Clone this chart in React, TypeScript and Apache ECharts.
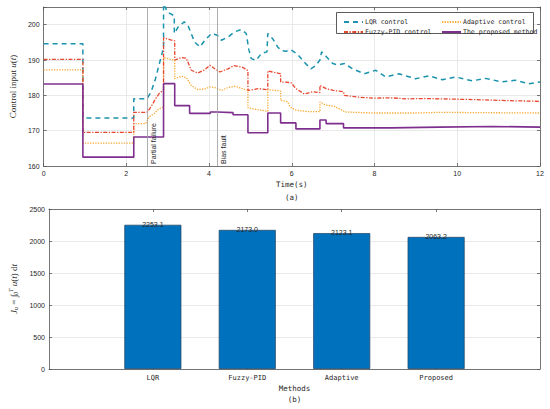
import React, { useEffect, useRef } from "react";
import * as echarts from "echarts";

// ---------- (a) control input ----------
const lqrTime = [0, 0.95, 0.95, 2.18, 2.18, 2.5, 2.6, 2.7, 2.8, 2.9, 2.9, 3.0, 3.16, 3.16, 3.25, 3.4, 3.5, 3.65, 3.78, 3.9, 4.06, 4.2, 4.3, 4.46, 4.62, 4.78, 4.9, 4.96, 5.02, 5.14, 5.26, 5.4, 5.42, 5.54, 5.66, 5.74, 5.86, 5.98, 6.14, 6.3, 6.46, 6.58, 6.68, 6.72, 6.83, 6.99, 7.11, 7.27, 7.47, 7.75, 8.03, 8.27, 8.59, 8.99, 9.32, 9.64, 9.96, 10.36, 10.68, 11.08, 11.4, 11.73, 12];
const lqrValue = [194.6, 194.6, 173.6, 173.6, 179.0, 179.0, 181.0, 184.5, 189.0, 193.5, 206.0, 203.5, 202.5, 197.5, 199.3, 200.8, 199.5, 195.1, 193.7, 195.6, 197.5, 197.0, 195.6, 196.5, 198.0, 198.6, 197.5, 193.0, 190.4, 189.9, 191.8, 192.3, 197.5, 196.0, 193.7, 192.7, 192.5, 192.9, 191.6, 189.4, 187.5, 188.4, 190.0, 192.3, 191.0, 189.0, 188.6, 189.0, 187.5, 186.1, 187.1, 185.2, 186.1, 184.7, 185.5, 184.4, 185.2, 184.1, 184.8, 183.8, 184.3, 183.3, 183.8];

const fuzzyTime = [0, 0.95, 0.95, 2.18, 2.18, 2.5, 2.6, 2.7, 2.8, 2.9, 2.9, 3.05, 3.17, 3.17, 3.33, 3.45, 3.57, 3.73, 3.89, 4.02, 4.14, 4.26, 4.46, 4.6, 4.8, 4.94, 4.94, 5.2, 5.42, 5.42, 5.73, 5.73, 5.98, 6.1, 6.3, 6.5, 6.68, 6.68, 6.83, 7.0, 7.25, 7.27, 7.59, 7.99, 8.39, 8.79, 9.2, 9.6, 10.4, 11.2, 12];
const fuzzyValue = [190.2, 190.2, 169.5, 169.5, 175.2, 175.2, 176.8, 178.9, 180.6, 181.5, 196.3, 195.8, 195.4, 190.0, 190.7, 190.5, 187.1, 186.3, 187.2, 188.5, 187.5, 186.6, 187.5, 188.4, 188.0, 187.0, 181.4, 181.9, 181.6, 186.9, 186.1, 183.8, 183.6, 181.9, 180.4, 181.0, 180.8, 182.8, 181.9, 181.4, 181.0, 180.0, 179.5, 179.2, 179.3, 179.0, 179.1, 179.0, 178.8, 178.5, 178.3];

const adaptiveTime = [0, 0.95, 0.95, 2.18, 2.18, 2.47, 2.55, 2.67, 2.79, 2.9, 2.9, 3.17, 3.17, 3.33, 3.45, 3.57, 3.73, 3.89, 4.02, 4.14, 4.3, 4.46, 4.62, 4.78, 4.94, 4.94, 5.2, 5.42, 5.42, 5.6, 5.73, 5.73, 5.9, 5.96, 6.1, 6.4, 6.68, 6.68, 6.83, 7.0, 7.25, 7.27, 8.0, 9.0, 9.6, 10.5, 12];
const adaptiveValue = [187.2, 187.2, 166.5, 166.5, 172.0, 172.0, 173.9, 174.8, 176.2, 176.7, 190.7, 189.9, 184.7, 185.4, 185.0, 182.8, 181.6, 181.8, 182.4, 182.2, 181.4, 182.2, 182.6, 182.0, 181.4, 176.5, 175.9, 175.5, 181.6, 181.4, 181.2, 178.6, 178.2, 176.7, 175.8, 175.4, 175.4, 178.1, 177.2, 177.0, 175.6, 175.3, 175.0, 175.0, 175.2, 175.1, 175.0];

const proposedTime = [0, 0.95, 2.18, 2.9, 3.17, 3.53, 4.03, 4.2, 4.58, 4.94, 5.42, 5.73, 6.1, 6.68, 6.83, 7.25, 8.39, 9.56, 10.84, 12];
const proposedValue = [183.2, 162.5, 168.2, 183.3, 177.1, 174.9, 175.3, 175.1, 174.5, 169.4, 175.0, 172.2, 170.5, 173.0, 172.0, 170.8, 171.0, 171.2, 171.0, 171.0];

const faultTimes = [2.5, 4.2];
const faultNames = ["Partial failure", "Bias fault"];

const seriesNames = ["LQR control", "Fuzzy-PID control", "Adaptive control", "The proposed method"];
const seriesColors = ["#1b93ad", "#e8472f", "#f9a833", "#7e2f8e"];

const inputTicks = [160, 170, 180, 190, 200];

// ---------- (b) cost ----------
const methods = ["LQR", "Fuzzy-PID", "Adaptive", "Proposed"];
const costs = [2253.1, 2173.0, 2123.1, 2063.2];

const zip = (t: number[], v: number[]) => t.map((x, i) => [x, v[i]]);

const MONO = "'DejaVu Sans Mono', 'Liberation Mono', monospace";
const SANS = "'Liberation Sans', Arial, sans-serif";
const SERIF = "'Liberation Serif', 'DejaVu Serif', serif";
const AXIS = "#555";
const GRIDC = "#e3e3e3";
const TXT = "#262626";

export default function App() {
  const ref = useRef<HTMLDivElement>(null);
  useEffect(() => {
    if (!ref.current) return;
    const chart = echarts.init(ref.current, undefined, { renderer: "svg" });

    const boxAxis = (gridIndex: number, pos: string) => ({
      gridIndex,
      position: pos,
      type: "value",
      axisLine: { show: true, onZero: false, lineStyle: { color: AXIS, width: 0.8 } },
      axisTick: { show: true, inside: true, length: 3, lineStyle: { color: AXIS, width: 0.8 } },
      axisLabel: { show: false },
      splitLine: { show: false },
    });

    const legendBase = {
      orient: "vertical",
      top: 13.5,
      itemWidth: 19,
      itemHeight: 6,
      itemGap: 3,
      z: 10,
      itemStyle: { opacity: 0 },
      textStyle: { fontFamily: MONO, fontSize: 6.5, color: TXT, padding: [0, 0, 0, -3] },
      selectedMode: false,
    };

    const option: any = {
      animation: false,
      backgroundColor: "#fff",
      grid: [
        { left: 42, right: 10, top: 7, height: 159 },
        { left: 42, right: 10, top: 209, height: 160 },
      ],
      legend: [
        { ...legendBase, data: [seriesNames[0], seriesNames[1]], left: 338 },
        { ...legendBase, data: [seriesNames[2], seriesNames[3]], left: 436 },
      ],
      graphic: [
        {
          type: "rect",
          z: 1,
          shape: { x: 336.5, y: 12.5, width: 197, height: 21 },
          style: { fill: "#fff", stroke: "#333", lineWidth: 0.8 },
        },
      ],
      xAxis: [
        {
          ...boxAxis(0, "bottom"),
          min: 0,
          max: 12,
          interval: 2,
          axisLabel: { show: true, fontFamily: SANS, fontSize: 7, color: TXT, margin: 4 },
          splitLine: { show: true, lineStyle: { color: GRIDC, width: 0.8 } },
          name: "Time(s)\n(a)",
          nameLocation: "middle",
          nameGap: 10,
          nameTextStyle: { fontFamily: MONO, fontSize: 7.5, color: TXT, lineHeight: 13, verticalAlign: "top" },
        },
        { ...boxAxis(0, "top"), min: 0, max: 12, interval: 2 },
        {
          ...boxAxis(1, "bottom"),
          min: -0.1,
          max: 5.1,
          axisTick: { show: true, inside: true, length: 3, customValues: [1, 2, 3, 4], lineStyle: { color: AXIS, width: 0.8 } },
          axisLabel: {
            show: true,
            customValues: [1, 2, 3, 4],
            formatter: (v: number) => methods[Math.round(v) - 1] ?? "",
            fontFamily: MONO,
            fontSize: 7,
            color: TXT,
            margin: 5,
          },
          name: "Methods\n(b)",
          nameLocation: "middle",
          nameGap: 14,
          nameTextStyle: { fontFamily: MONO, fontSize: 7.5, color: TXT, lineHeight: 11, verticalAlign: "top" },
        },
        {
          ...boxAxis(1, "top"),
          min: -0.1,
          max: 5.1,
          axisTick: { show: true, inside: true, length: 3, customValues: [1, 2, 3, 4], lineStyle: { color: AXIS, width: 0.8 } },
        },
      ],
      yAxis: [
        {
          ...boxAxis(0, "left"),
          min: 160,
          max: 205,
          interval: 10,
          axisLabel: {
            show: true,
            fontFamily: SANS,
            fontSize: 7,
            color: TXT,
            margin: 4,
            formatter: (v: number) => (inputTicks.includes(v) ? String(v) : ""),
          },
          splitLine: { show: true, lineStyle: { color: GRIDC, width: 0.8 } },
          name: "{a|Control input }{b|u}{a|(}{b|t}{a|)}",
          nameLocation: "middle",
          nameGap: 20,
          nameTextStyle: {
            rich: {
              a: { fontFamily: SERIF, fontSize: 9, color: TXT },
              b: { fontFamily: SERIF, fontSize: 9, fontStyle: "italic", color: TXT },
            },
          },
        },
        { ...boxAxis(0, "right"), min: 160, max: 205, interval: 10 },
        {
          ...boxAxis(1, "left"),
          min: 0,
          max: 2500,
          interval: 500,
          axisLabel: { show: true, fontFamily: SANS, fontSize: 7, color: TXT, margin: 4, formatter: (v: number) => String(v) },
          splitLine: { show: true, lineStyle: { color: GRIDC, width: 0.8 } },
          name: "{b|J}{s|u}{a| = ∫}{s|0}{t|T}{a| }{b|u}{a|(}{b|t}{a|) d}{b|t}",
          nameLocation: "middle",
          nameGap: 24,
          nameTextStyle: {
            rich: {
              a: { fontFamily: SERIF, fontSize: 9, color: TXT },
              b: { fontFamily: SERIF, fontSize: 9, fontStyle: "italic", color: TXT },
              s: { fontFamily: SERIF, fontSize: 6, fontStyle: "italic", color: TXT, padding: [4, 0, 0, 0] },
              t: { fontFamily: SERIF, fontSize: 6, fontStyle: "italic", color: TXT, padding: [0, 0, 5, 0] },
            },
          },
        },
        { ...boxAxis(1, "right"), min: 0, max: 2500, interval: 500 },
      ],
      series: [
        {
          name: seriesNames[0],
          type: "line",
          xAxisIndex: 0,
          yAxisIndex: 0,
          data: zip(lqrTime, lqrValue),
          symbol: "none",
          lineStyle: { color: seriesColors[0], width: 1.5, type: [5, 4] },
          itemStyle: { color: seriesColors[0] },
          z: 3,
        },
        {
          name: seriesNames[2],
          type: "line",
          xAxisIndex: 0,
          yAxisIndex: 0,
          data: zip(adaptiveTime, adaptiveValue),
          symbol: "none",
          lineStyle: { color: seriesColors[2], width: 1.3, type: [1.3, 1.3] },
          itemStyle: { color: seriesColors[2] },
          z: 3,
        },
        {
          name: seriesNames[1],
          type: "line",
          xAxisIndex: 0,
          yAxisIndex: 0,
          data: zip(fuzzyTime, fuzzyValue),
          symbol: "none",
          lineStyle: { color: seriesColors[1], width: 1.3, type: [4, 1.5, 1.3, 1.5] },
          itemStyle: { color: seriesColors[1] },
          z: 3,
        },
        {
          name: seriesNames[3],
          type: "line",
          xAxisIndex: 0,
          yAxisIndex: 0,
          step: "end",
          data: zip(proposedTime, proposedValue),
          symbol: "none",
          lineStyle: { color: seriesColors[3], width: 1.6 },
          itemStyle: { color: seriesColors[3] },
          z: 4,
          markLine: {
            silent: true,
            symbol: "none",
            lineStyle: { color: "#9a9a9a", width: 0.8, type: "solid" },
            label: {
              position: "insideStartBottom",
              fontFamily: SANS,
              fontSize: 7,
              color: TXT,
              distance: [2, 3],
            },
            data: faultTimes.map((t, i) => ({ xAxis: t, label: { formatter: faultNames[i] } })),
          },
        },
        {
          name: "cost",
          type: "bar",
          xAxisIndex: 2,
          yAxisIndex: 2,
          barWidth: 57,
          data: costs.map((c, i) => [i + 1, c]),
          itemStyle: { color: "#0072bd", borderColor: "#23405f", borderWidth: 0.7 },
          label: {
            show: true,
            position: "top",
            distance: -3,
            fontFamily: SANS,
            fontSize: 7,
            color: TXT,
            formatter: (p: any) => p.value[1].toFixed(1),
          },
        },
      ],
    };
    chart.setOption(option);
    return () => chart.dispose();
  }, []);
  return (
    <div
      ref={ref}
      style={{ position: "fixed", left: 0, top: 0, width: 550, height: 409, background: "#fff" }}
    />
  );
}
